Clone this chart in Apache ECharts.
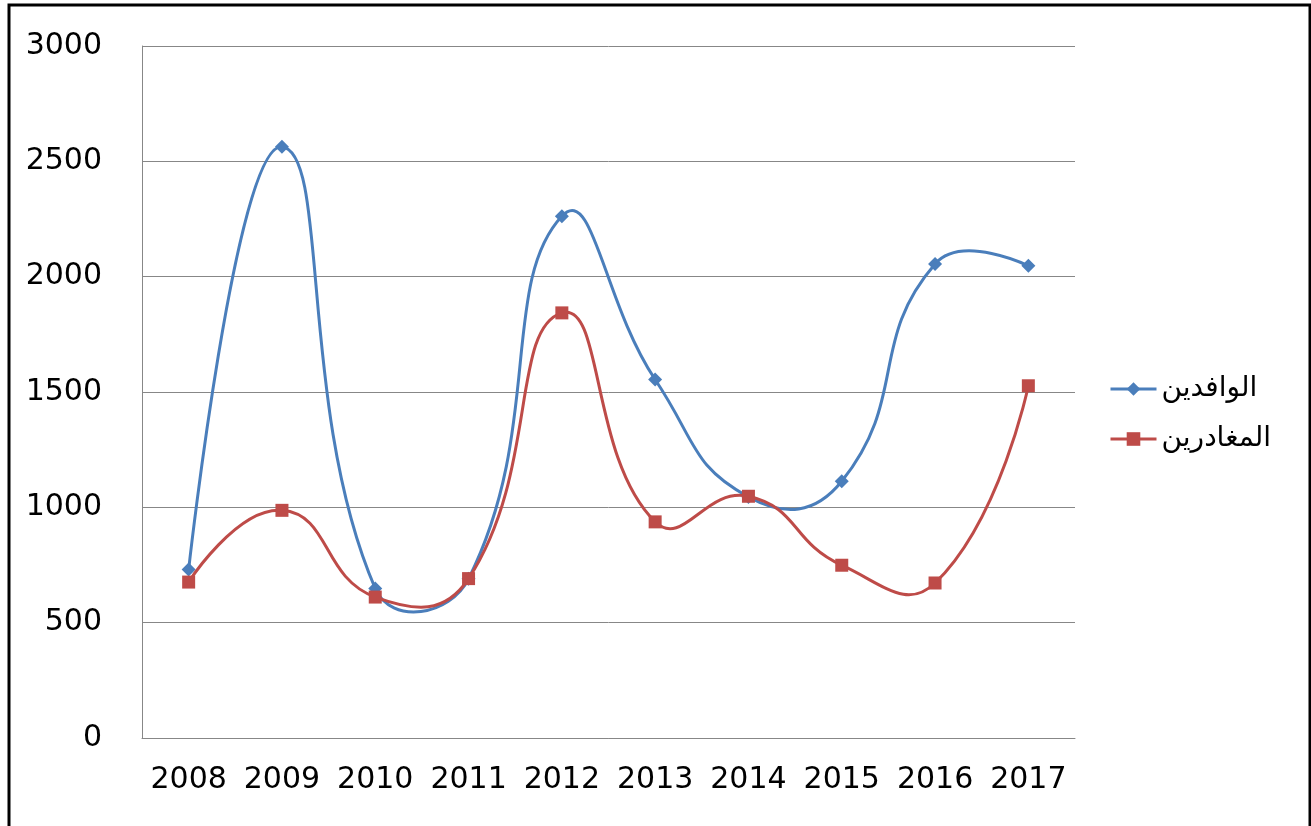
<!DOCTYPE html>
<html>
<head>
<meta charset="utf-8">
<script src="https://cdn.jsdelivr.net/npm/echarts@6/dist/echarts.min.js"></script>
<style>
  html, body { margin: 0; padding: 0; background: #fff; }
  #chart { width: 1311px; height: 826px; }
</style>
</head>
<body>
<div id="chart"></div>
<script>
// Years on the horizontal axis
const years = ['2008', '2009', '2010', '2011', '2012', '2013', '2014', '2015', '2016', '2017'];
// Arrivals (الوافدين)
const arrivals = [730, 2563, 648, 690, 2262, 1554, 1045, 1113, 2055, 2047];
// Departures (المغادرين)
const departures = [676, 987, 611, 691, 1843, 937, 1048, 749, 672, 1527];
// Series names shown in the legend
const seriesNames = ['الوافدين', 'المغادرين'];
// Value axis ticks
const yTicks = { min: 0, max: 3000, interval: 500 };

const BLUE = '#4a7ebb';
const RED = '#be4b48';
const FONT = 'DejaVu Sans';

// Smooth curve through the points, in pixel space: each control point follows the
// chord between neighbours, weighted by the lengths of the adjoining segments.
function smoothRenderer(values, color) {
  return function (params, api) {
    if (params.dataIndex !== 0) return;
    const pts = values.map((v, i) => api.coord([i, v]));
    const n = pts.length;
    const outCp = [], inCp = [];
    for (let i = 0; i < n; i++) {
      const p = pts[i];
      if (i === 0 || i === n - 1) { outCp[i] = p; inCp[i] = p; continue; }
      const a = pts[i - 1], b = pts[i + 1];
      const vx = b[0] - a[0], vy = b[1] - a[1];
      const d0 = Math.hypot(p[0] - a[0], p[1] - a[1]);
      const d1 = Math.hypot(b[0] - p[0], b[1] - p[1]);
      const ko = 0.5 * d1 / (d0 + d1), ki = 0.5 * d0 / (d0 + d1);
      outCp[i] = [p[0] + vx * ko, p[1] + vy * ko];
      inCp[i] = [p[0] - vx * ki, p[1] - vy * ki];
    }
    const children = [];
    for (let i = 0; i < n - 1; i++) {
      children.push({
        type: 'bezierCurve',
        shape: {
          x1: pts[i][0], y1: pts[i][1],
          cpx1: outCp[i][0], cpy1: outCp[i][1],
          cpx2: inCp[i + 1][0], cpy2: inCp[i + 1][1],
          x2: pts[i + 1][0], y2: pts[i + 1][1]
        },
        style: { stroke: color, lineWidth: 3, fill: null }
      });
    }
    return { type: 'group', children: children };
  };
}

const chart = echarts.init(document.getElementById('chart'), null, { renderer: 'canvas' });

chart.setOption({
  animation: false,
  backgroundColor: '#ffffff',
  graphic: [{
    type: 'rect',
    shape: { x: 9, y: 5, width: 1301, height: 900 },
    style: { fill: null, stroke: '#000', lineWidth: 3 },
    silent: true,
    z: 100
  }],
  grid: { left: 142, right: 236, top: 46, bottom: 88 },
  legend: {
    data: seriesNames,
    orient: 'vertical',
    left: 1109,
    top: 374,
    itemWidth: 46,
    itemHeight: 17,
    itemGap: 20,
    padding: 0,
    lineStyle: { width: 3, opacity: 1 },
    textStyle: { fontSize: 28, lineHeight: 30, fontFamily: FONT, color: '#000' }
  },
  xAxis: {
    type: 'category',
    data: years,
    boundaryGap: true,
    axisLine: { lineStyle: { color: '#878787', width: 1 } },
    axisTick: { show: false },
    axisLabel: { fontSize: 30, fontFamily: FONT, color: '#000', margin: 27, interval: 0 },
    splitLine: { show: false }
  },
  yAxis: {
    type: 'value',
    min: yTicks.min,
    max: yTicks.max,
    interval: yTicks.interval,
    axisLine: { show: true, lineStyle: { color: '#878787', width: 1 } },
    axisTick: { show: false },
    axisLabel: { fontSize: 30, fontFamily: FONT, color: '#000', margin: 40, formatter: (v) => String(v) },
    splitLine: { lineStyle: { color: '#878787', width: 1 } }
  },
  series: [
    {
      type: 'custom',
      name: 'curve-arrivals',
      data: [[0, arrivals[0]]],
      renderItem: smoothRenderer(arrivals, BLUE),
      silent: true,
      z: 2
    },
    {
      type: 'line',
      name: seriesNames[0],
      data: arrivals,
      symbol: 'diamond',
      symbolSize: [14, 14],
      showSymbol: true,
      color: BLUE,
      itemStyle: { color: BLUE },
      lineStyle: { color: BLUE, width: 3, opacity: 0 },
      z: 3
    },
    {
      type: 'custom',
      name: 'curve-departures',
      data: [[0, departures[0]]],
      renderItem: smoothRenderer(departures, RED),
      silent: true,
      z: 4
    },
    {
      type: 'line',
      name: seriesNames[1],
      data: departures,
      symbol: 'rect',
      symbolSize: [13, 13],
      showSymbol: true,
      color: RED,
      itemStyle: { color: RED },
      lineStyle: { color: RED, width: 3, opacity: 0 },
      z: 5
    }
  ]
});
</script>
</body>
</html>
